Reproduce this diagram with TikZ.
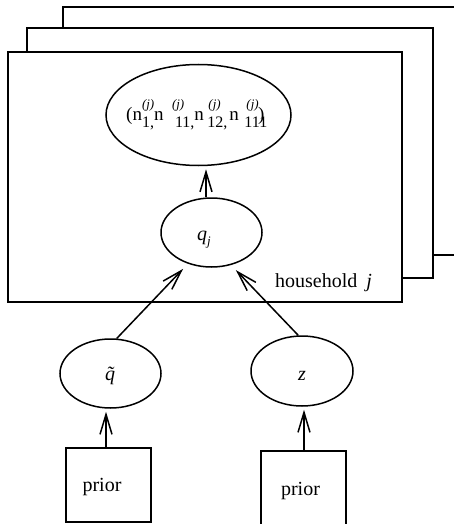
\documentclass[tikz,border=0pt]{standalone}
\usepackage{fontspec}
\setmainfont{Liberation Serif}
\usetikzlibrary{shapes.geometric,arrows.meta}
\newcommand\njs[3]{\hspace{#1}\rlap{\hspace{#2}\raisebox{12pt}{\fontsize{13}{13}\selectfont\itshape(j)}}\raisebox{-7pt}{\fontsize{16}{16}\selectfont #3}}
\begin{document}
\begin{tikzpicture}[x=1pt,y=-1pt,
  plate/.style={draw,fill=white,line width=1.5pt},
  ell/.style={draw,ellipse,line width=1.5pt,inner sep=0pt},
  boxnode/.style={draw,rectangle,line width=1.5pt,inner sep=0pt,minimum width=85pt,minimum height=74pt},
  arr/.style={line width=1.5pt,-{Straight Barb[length=20pt,width=12pt,line width=1.5pt]}},
  lbl/.style={font=\fontsize{20}{24}\selectfont,inner sep=0pt}]
\useasboundingbox (0,0) rectangle (454,524);
\clip (0,0) rectangle (454,524);
% plates
\draw[plate] (63,7) rectangle (480,255);
\draw[plate] (27,28) rectangle (433,278);
\draw[plate] (8,52) rectangle (402,302);
% nodes
\node[ell,minimum width=185pt,minimum height=101pt] (obs) at (198.5,115) {};
\node[lbl,anchor=base west,font=\fontsize{19}{24}\selectfont] (obstext) at (126,121)
  {(n\njs{0pt}{0pt}{1,}n\njs{11.5pt}{-3pt}{11,}n\njs{3.5pt}{1pt}{12,}\hspace{2pt}n\njs{5.5pt}{2pt}{111}\hspace{-9pt})};
\node[ell,minimum width=101pt,minimum height=69pt] (qj) at (211.5,232.5) {};
\node[lbl,anchor=base west] (qjtext) at (197,240) {\textit{q}\raisebox{-5pt}{\fontsize{13}{13}\selectfont\textit{j}}};
\node[ell,minimum width=101pt,minimum height=69pt] (qt) at (110.5,373.5) {};
\node[lbl,anchor=base] (qttext) at (110,380) {\itshape\rlap{\hspace{1.5pt}\char"02DC}q};
\node[ell,minimum width=102pt,minimum height=70pt] (z) at (302,371) {};
\node[lbl,anchor=base] (ztext) at (302,380) {\textit{z}};
\node[boxnode] (p1) at (108.5,485) {};
\node[lbl,anchor=base] (p1text) at (102,491) {prior};
\node[boxnode,minimum height=76pt] (p2) at (303.5,489) {};
\node[lbl,anchor=base] (p2text) at (300.5,495) {prior};
\node[lbl,anchor=base west] (hh) at (275,287) {household\hspace{9pt}\textit{j}};
% connectors
\draw[arr,shorten >=3pt] ([xshift=-5.5pt]qj.north) -- ([xshift=-5.5pt]qj.north |- obs.south);
\draw[arr,shorten >=7pt] (qt.80) -- (qj.233);
\draw[arr,shorten >=7pt] (z.96) -- (qj.301);
\draw[arr,shorten >=3pt] ([xshift=-2.5pt]p1.north) -- ([xshift=-2.5pt]p1.north |- qt.south);
\draw[arr,shorten >=3pt] ([xshift=0.5pt]p2.north) -- ([xshift=0.5pt]p2.north |- z.south);
\end{tikzpicture}
\end{document}
